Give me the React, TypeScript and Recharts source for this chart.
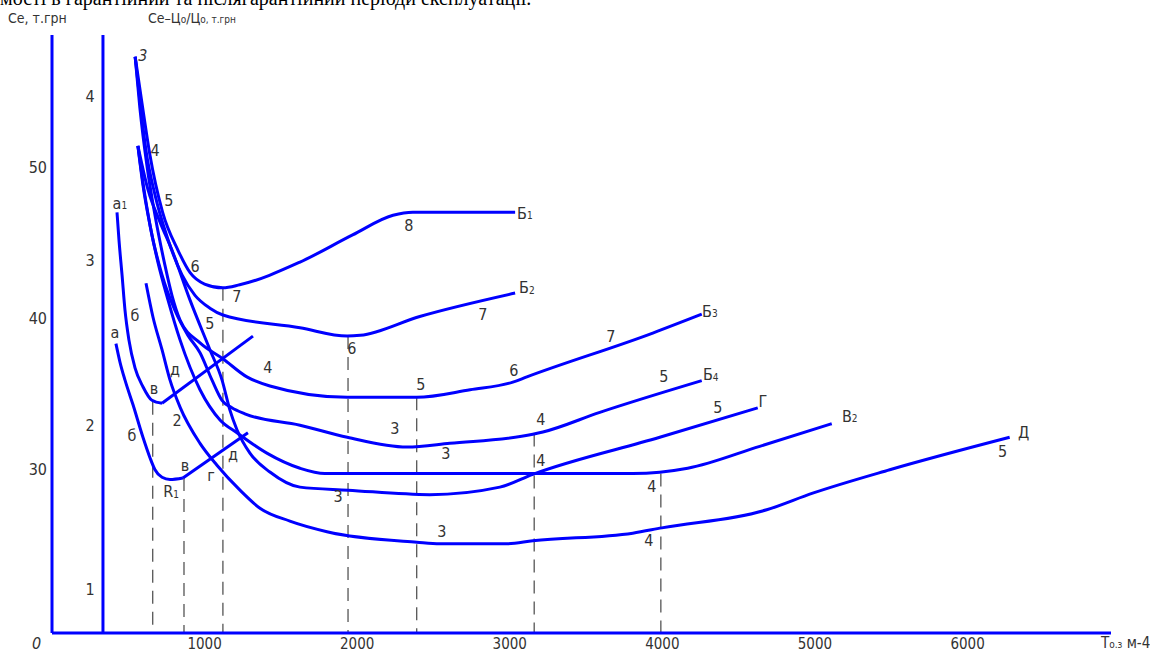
import { LineChart, Line, XAxis, YAxis, ReferenceLine, ReferenceDot } from 'recharts';

// T (operating time) vs Ce (thousand UAH)
const xTicks = [1000, 2000, 3000, 4000, 5000, 6000];
const ceTicks = [30, 40, 50];
const ratioTicks = [1, 2, 3, 4];

const b1 = [[545, 57.3], [590, 54.2], [640, 50.9], [725, 47.0], [825, 44.5], [905, 43.0], [1000, 42.25], [1120, 42.0], [1230, 42.2], [1625, 43.7], [1970, 45.5], [2235, 46.8], [2365, 47.0], [3035, 47.0]];
const b2 = [[545, 57.3], [576, 54.4], [616, 51.1], [675, 48.15], [760, 45.2], [852, 42.85], [937, 41.5], [1035, 40.65], [1120, 40.2], [1625, 39.35], [1935, 38.8], [2020, 38.85], [2410, 40.1], [3035, 41.65]];
const b3 = [[545, 57.3], [576, 53.9], [622, 50.1], [675, 46.8], [740, 43.5], [786, 41.5], [840, 39.85], [970, 38.35], [1120, 37.3], [1277, 36.1], [1428, 35.5], [1935, 34.75], [2390, 34.75], [2740, 35.25], [3020, 35.75], [3112, 36.1], [3937, 39.0], [4258, 40.25]];
const b4 = [[563, 51.4], [603, 48.5], [655, 45.5], [721, 42.85], [806, 40.5], [891, 38.85], [970, 37.7], [1048, 35.9], [1114, 34.55], [1179, 34.05], [1264, 33.65], [1625, 32.9], [1935, 32.1], [2326, 31.45], [2607, 31.7], [3151, 32.3], [3217, 32.45], [3590, 33.75], [4258, 35.85]];
const g = [[563, 51.4], [629, 48.5], [708, 46.35], [786, 44.5], [904, 41.2], [1035, 37.9], [1114, 35.9], [1166, 33.9], [1212, 32.6], [1297, 31.05], [1428, 29.8], [1625, 28.8], [1940, 28.6], [2476, 28.3], [2935, 28.8], [3151, 29.65], [3983, 32.1], [4625, 34.05]];
const v2 = [[563, 51.4], [596, 48.8], [642, 46.15], [694, 43.7], [760, 41.2], [839, 38.55], [970, 35.25], [1101, 33.25], [1212, 32.4], [1408, 31.05], [1625, 30.05], [1788, 29.7], [3806, 29.7], [4166, 30.05], [4638, 31.5], [5110, 33.0]];
const d = [[616, 42.3], [662, 40.05], [721, 37.9], [773, 35.9], [839, 34.1], [970, 31.7], [1081, 30.25], [1232, 28.6], [1363, 27.4], [1559, 26.55], [1802, 25.85], [2391, 25.15], [2542, 25.05], [2981, 25.05], [3151, 25.25], [3806, 25.75], [3996, 26.1], [4684, 27.3], [4985, 28.4], [5490, 29.95], [6276, 32.1]];
const a1 = [[426, 47.0], [439, 45.15], [459, 42.85], [478, 40.55], [504, 38.55], [544, 36.7], [596, 35.45], [655, 34.55], [721, 34.35]];
const a1Tail = [[721, 34.35], [1317, 38.8]];
const a = [[419, 38.3], [445, 37.1], [478, 35.9], [531, 34.25], [596, 32.1], [642, 30.75], [675, 29.95], [721, 29.45], [773, 29.3], [858, 29.4]];
const aTail = [[858, 29.4], [1284, 32.4]];

const curves = [b1, b2, b3, b4, g, v2, d, a1, a];
const tails = [a1Tail, aTail];

// dashed projections: T value and the Ce where they meet the curve
const markT = [660, 865, 1120, 1940, 2390, 3160, 3990];
const markCe = [34.45, 29.4, 42.0, 38.8, 34.75, 32.35, 29.7];

const tags = [
  { t: '3', x: 596, y: 57.4, it: true },
  { t: '4', x: 675, y: 51.1 },
  { t: '5', x: 766, y: 47.75 },
  { t: '6', x: 937, y: 43.4 },
  { t: '7', x: 1212, y: 41.4 },
  { t: '8', x: 2339, y: 46.1 },
  { t: 'Б1', x: 3099, y: 46.95 },
  { t: '5', x: 1035, y: 39.65 },
  { t: '6', x: 1965, y: 38.0 },
  { t: '7', x: 2823, y: 40.25 },
  { t: 'Б2', x: 3112, y: 42.0 },
  { t: '4', x: 1415, y: 36.7 },
  { t: '5', x: 2417, y: 35.6 },
  { t: '6', x: 3027, y: 36.55 },
  { t: '7', x: 3662, y: 38.8 },
  { t: 'Б3', x: 4311, y: 40.45 },
  { t: '3', x: 2247, y: 32.7 },
  { t: '4', x: 3203, y: 33.25 },
  { t: '5', x: 4009, y: 36.15 },
  { t: 'Б4', x: 4317, y: 36.25 },
  { t: '3', x: 2581, y: 31.0 },
  { t: '4', x: 3203, y: 30.55 },
  { t: '5', x: 4363, y: 34.1 },
  { t: 'Г', x: 4658, y: 34.5 },
  { t: '3', x: 1874, y: 28.15 },
  { t: '4', x: 3931, y: 28.85 },
  { t: 'В2', x: 5228, y: 33.5 },
  { t: '3', x: 2555, y: 25.85 },
  { t: '4', x: 3911, y: 25.25 },
  { t: '5', x: 6230, y: 31.15 },
  { t: 'Д', x: 6368, y: 32.45 },
  { t: 'а1', x: 445, y: 47.6 },
  { t: 'б', x: 544, y: 40.15 },
  { t: 'в', x: 668, y: 35.3 },
  { t: 'д', x: 806, y: 36.6 },
  { t: '2', x: 819, y: 33.2 },
  { t: 'а', x: 413, y: 39.05 },
  { t: 'б', x: 524, y: 32.25 },
  { t: 'в', x: 871, y: 30.2 },
  { t: 'г', x: 1042, y: 29.6 },
  { t: 'д', x: 1186, y: 30.95 },
  { t: 'R1', x: 780, y: 28.5 },
];

const BLUE = '#0000ff';
const INK = '#333';
const FONT = "'Liberation Sans Narrow', 'DejaVu Sans Condensed', 'Roboto Condensed', Roboto, sans-serif";

const toPts = (arr: number[][]) => arr.map(([x, y]) => ({ x, y }));

const tagLabel = (t: string, italic = false) => (props: any) => {
  const vb = props.viewBox || {};
  const cx = (vb.x ?? 0) + (vb.width ?? 0) / 2;
  const cy = (vb.y ?? 0) + (vb.height ?? 0) / 2;
  return (
    <text x={cx} y={cy} textAnchor="middle" dominantBaseline="central" fill={INK}
      fontSize={16} fontFamily={FONT} fontStyle={italic ? 'italic' : 'normal'}>
      {t.charAt(0)}
      {t.length > 1 && <tspan fontSize={10} dy={2}>{t.slice(1)}</tspan>}
    </text>
  );
};

const small = { fontSize: 10 };

const App = () => {
  return (
    <div style={{ position: 'absolute', left: 0, top: 0, width: 1150, height: 654, overflow: 'hidden', background: '#fff' }}>
      <LineChart width={1150} height={654} margin={{ top: 35, right: 39, bottom: 0, left: 0 }}>
        <XAxis
          type="number"
          dataKey="x"
          domain={[0, 6940]}
          ticks={xTicks}
          interval={0}
          allowDataOverflow
          height={21}
          axisLine={{ stroke: BLUE, strokeWidth: 3 }}
          tickLine={false}
          tickSize={0}
          tickMargin={5}
          tick={{ fill: INK, fontSize: 15, fontFamily: FONT }}
        />
        <YAxis
          type="number"
          domain={[19.14, 58.74]}
          ticks={ceTicks}
          interval={0}
          allowDataOverflow
          width={52}
          axisLine={{ stroke: BLUE, strokeWidth: 3 }}
          tickLine={false}
          tickSize={0}
          tickMargin={5}
          tick={{ fill: INK, fontSize: 16, fontFamily: FONT }}
        />
        <YAxis yAxisId="k" type="number" hide domain={[0.736, 4.373]} allowDataOverflow />

        {/* second scale (Ce-Цо)/Цо */}
        <ReferenceLine x={334} stroke={BLUE} strokeWidth={3} />
        {ratioTicks.map((k) => (
          <ReferenceDot key={'k' + k} yAxisId="k" x={249} y={k} r={0} fill="none" stroke="none" label={tagLabel(String(k))} />
        ))}

        {markT.map((t, i) => (
          <ReferenceLine
            key={'m' + i}
            segment={[{ x: t, y: markCe[i] }, { x: t, y: 19.14 }]}
            stroke="#555"
            strokeWidth={1.3}
            strokeDasharray="13 8"
          />
        ))}

        {curves.map((c, i) => (
          <Line key={'c' + i} data={toPts(c)} dataKey="y" type="monotone" stroke={BLUE} strokeWidth={3}
            dot={false} activeDot={false} isAnimationActive={false} />
        ))}
        {tails.map((c, i) => (
          <Line key={'t' + i} data={toPts(c)} dataKey="y" type="linear" stroke={BLUE} strokeWidth={3}
            dot={false} activeDot={false} isAnimationActive={false} />
        ))}

        {tags.map((tg, i) => (
          <ReferenceDot key={'g' + i} x={tg.x} y={tg.y} r={0} fill="none" stroke="none" label={tagLabel(tg.t, tg.it)} />
        ))}
      </LineChart>

      <div style={{ position: 'absolute', left: 0, top: -12, fontFamily: "'Liberation Serif', 'Times New Roman', serif", fontSize: 20, lineHeight: '20px', whiteSpace: 'nowrap', color: '#000' }}>
        мості в гарантійний та післягарантійний періоди експлуатації.
      </div>
      <div style={{ position: 'absolute', left: 8, top: 10, fontFamily: FONT, fontSize: 14, color: INK, whiteSpace: 'nowrap' }}>
        Cе, т.грн
      </div>
      <div style={{ position: 'absolute', left: 148, top: 10, fontFamily: FONT, fontSize: 14, color: INK, whiteSpace: 'nowrap' }}>
        Cе–Ц<span style={small}>о</span>/Ц<span style={small}>о</span><span style={small}>, т.грн</span>
      </div>
      <div style={{ position: 'absolute', left: 32, top: 634, fontFamily: FONT, fontSize: 16, fontStyle: 'italic', color: INK }}>
        0
      </div>
      <div style={{ position: 'absolute', left: 1101, top: 634, fontFamily: FONT, fontSize: 15, color: INK, whiteSpace: 'nowrap' }}>
        T<span style={small}>о.з</span> м-4
      </div>
    </div>
  );
};

export default App;
